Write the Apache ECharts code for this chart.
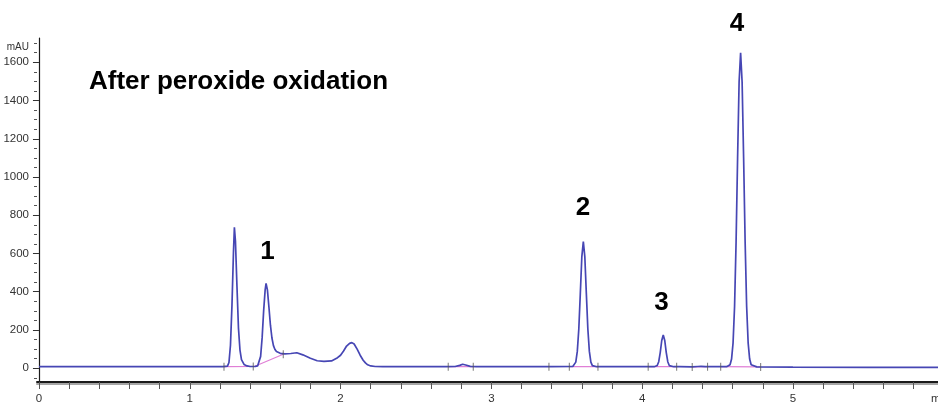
<!DOCTYPE html>
<html>
<head>
<meta charset="utf-8">
<script src="https://cdn.jsdelivr.net/npm/echarts@6/dist/echarts.min.js"></script>
<style>
html,body{margin:0;padding:0;background:#fff;}
#chart{width:938px;height:406px;}
</style>
</head>
<body>
<div id="chart"></div>
<script>
// ---- data ----
const traceTime = [
  0, 0.5, 1.0, 1.22,
  1.23, 1.25, 1.26, 1.27, 1.28, 1.29, 1.296, 1.303, 1.313, 1.323, 1.333, 1.343, 1.36, 1.38, 1.40, 1.42, 1.435,
  1.45, 1.46, 1.47, 1.48, 1.49, 1.50, 1.506, 1.515, 1.525, 1.535, 1.545, 1.555, 1.565, 1.575, 1.60, 1.63, 1.67, 1.71, 1.75, 1.80, 1.845, 1.89, 1.94, 1.98, 2.00, 2.02, 2.04, 2.06, 2.075, 2.09, 2.11, 2.13, 2.15, 2.165, 2.18, 2.20, 2.23, 2.28,
  2.50, 2.70, 2.76, 2.79, 2.81, 2.83, 2.86, 2.90,
  3.20, 3.40, 3.54, 3.55, 3.56, 3.57, 3.58, 3.59, 3.60, 3.61, 3.62, 3.63, 3.64, 3.65, 3.66, 3.67, 3.68, 3.70,
  3.90, 4.08, 4.09, 4.10, 4.11, 4.12, 4.13, 4.14, 4.15, 4.16, 4.17, 4.18, 4.19, 4.21,
  4.25, 4.33, 4.37, 4.39, 4.42,
  4.56, 4.573, 4.583, 4.593, 4.603, 4.613, 4.623, 4.633, 4.643, 4.653, 4.663, 4.673, 4.683, 4.693, 4.703, 4.713, 4.723, 4.733, 4.76,
  5.0, 5.5, 5.962
];
const traceMAU = [
  8, 8, 8, 8,
  8, 11, 30, 120, 330, 610, 737, 665, 430, 210, 95, 45, 20, 12, 9, 9, 10,
  12, 22, 62, 160, 300, 410, 444, 410, 320, 225, 158, 118, 98, 87, 78, 75, 77, 81, 70, 52, 39, 36, 38, 55, 68, 90, 116, 130, 134, 127, 100, 68, 42, 28, 18, 12, 9, 8,
  8, 8, 9, 15, 21, 17, 10, 8,
  8, 8, 9, 14, 32, 88, 205, 390, 582, 662, 582, 390, 205, 88, 32, 14, 9, 8,
  8, 8, 9, 14, 34, 82, 145, 174, 145, 82, 34, 14, 9, 8,
  8, 7, 9, 10, 8,
  8, 10, 18, 48, 133, 324, 660, 1100, 1497, 1650, 1497, 1100, 660, 324, 133, 48, 18, 10, 7,
  6, 5, 4
];
// integration baselines (start/end time and level)
const baseStartT = [1.227, 1.432, 2.714, 3.517, 4.040, 4.332, 4.521];
const baseEndT   = [1.432, 1.620, 2.880, 3.707, 4.229, 4.434, 4.786];
const baseStartV = [8, 10, 8, 8, 8, 7, 8];
const baseEndV   = [9, 73, 8, 8, 8, 8, 7];
// peak start/end event markers
const markerT = [1.227, 1.421, 1.620, 2.714, 2.880, 3.382, 3.517, 3.707, 4.040, 4.229, 4.332, 4.434, 4.521, 4.786];
const markerV = [8, 9, 73, 8, 8, 8, 8, 8, 8, 8, 7, 8, 8, 7];
// axes
const xLabelValues = [0, 1, 2, 3, 4, 5];
const xTickValues = [0,0.2,0.4,0.6,0.8,1,1.2,1.4,1.6,1.8,2,2.2,2.4,2.6,2.8,3,3.2,3.4,3.6,3.8,4,4.2,4.4,4.6,4.8,5,5.2,5.4,5.6,5.8];
const yLabelValues = [0, 200, 400, 600, 800, 1000, 1200, 1400, 1600];
const yMinorValues = [-50,50,100,150,250,300,350,450,500,550,650,700,750,850,900,950,1050,1100,1150,1250,1300,1350,1450,1500,1550,1650,1700];
const titleText = 'After peroxide oxidation';
const peakNames = ['1', '2', '3', '4'];
const yUnit = 'mAU';
const xUnit = 'min';

// ---- build ----
const traceData = traceTime.map((t, i) => [t, traceMAU[i]]);
const baseData = [];
baseStartT.forEach((t, i) => {
  baseData.push([t, baseStartV[i]]);
  baseData.push([baseEndT[i], baseEndV[i]]);
  baseData.push('-');
});
const markerData = markerT.map((t, i) => [t, markerV[i]]);

const narrow = "'Liberation Sans Narrow', 'Liberation Sans', Arial, sans-serif";
const bold = "'Liberation Sans', Arial, Helvetica, sans-serif";

const chart = echarts.init(document.getElementById('chart'), null, {renderer: 'canvas'});
chart.setOption({
  animation: false,
  backgroundColor: '#ffffff',
  grid: {left: 37, right: 0, top: 38, bottom: 24, containLabel: false},
  xAxis: [{
    type: 'value', min: -0.013, max: 5.962,
    axisLine: {show: true, onZero: false, lineStyle: {color: '#1a1a1a', width: 2, shadowColor: 'rgba(0,0,0,0.35)', shadowOffsetY: 2}},
    axisTick: {show: true, customValues: xTickValues, length: 7, lineStyle: {color: '#555', width: 1}},
    axisLabel: {customValues: xLabelValues, formatter: v => String(v), color: '#333', fontSize: 11.5, fontFamily: narrow, margin: 11},
    splitLine: {show: false}
  }],
  yAxis: [{
    type: 'value', min: -72, max: 1727, position: 'left',
    axisLine: {show: true, lineStyle: {color: '#1a1a1a', width: 1.2}},
    axisTick: {show: true, customValues: yLabelValues, length: 6, lineStyle: {color: '#333'}},
    axisLabel: {customValues: yLabelValues, formatter: v => String(v), color: '#333', fontSize: 11.5, fontFamily: narrow, margin: 8},
    splitLine: {show: false}
  }, {
    type: 'value', min: -72, max: 1727, position: 'left', offset: 0,
    axisLine: {show: false},
    axisTick: {show: true, customValues: yMinorValues, length: 3, lineStyle: {color: '#555'}},
    axisLabel: {show: false},
    splitLine: {show: false}
  }],
  series: [{
    type: 'line', data: baseData, showSymbol: false, symbol: 'none', connectNulls: false,
    lineStyle: {color: '#e07fd6', width: 1.2}, z: 2, silent: true
  }, {
    type: 'line', data: traceData, showSymbol: false, symbol: 'none',
    lineStyle: {color: '#4646b4', width: 1.7}, z: 3, silent: true
  }, {
    type: 'scatter', data: markerData, symbol: 'rect', symbolSize: [1, 8],
    itemStyle: {color: '#555'}, z: 4, silent: true
  }],
  graphic: [
    {type: 'text', left: 89, top: 69, style: {text: titleText, font: 'bold 26px ' + bold, fill: '#000'}},
    {type: 'text', x: 267.5, y: 252, style: {text: peakNames[0], font: 'bold 26px ' + bold, fill: '#000', align: 'center', verticalAlign: 'middle'}},
    {type: 'text', x: 583, y: 208, style: {text: peakNames[1], font: 'bold 26px ' + bold, fill: '#000', align: 'center', verticalAlign: 'middle'}},
    {type: 'text', x: 661.5, y: 303, style: {text: peakNames[2], font: 'bold 26px ' + bold, fill: '#000', align: 'center', verticalAlign: 'middle'}},
    {type: 'text', x: 737, y: 24, style: {text: peakNames[3], font: 'bold 26px ' + bold, fill: '#000', align: 'center', verticalAlign: 'middle'}},
    {type: 'text', x: 29, y: 47, style: {text: yUnit, font: '10px ' + narrow, fill: '#333', align: 'right', verticalAlign: 'middle'}},
    {type: 'text', x: 931, y: 399, style: {text: xUnit, font: '11.5px ' + narrow, fill: '#333', align: 'left', verticalAlign: 'middle'}}
  ]
});
</script>
</body>
</html>
